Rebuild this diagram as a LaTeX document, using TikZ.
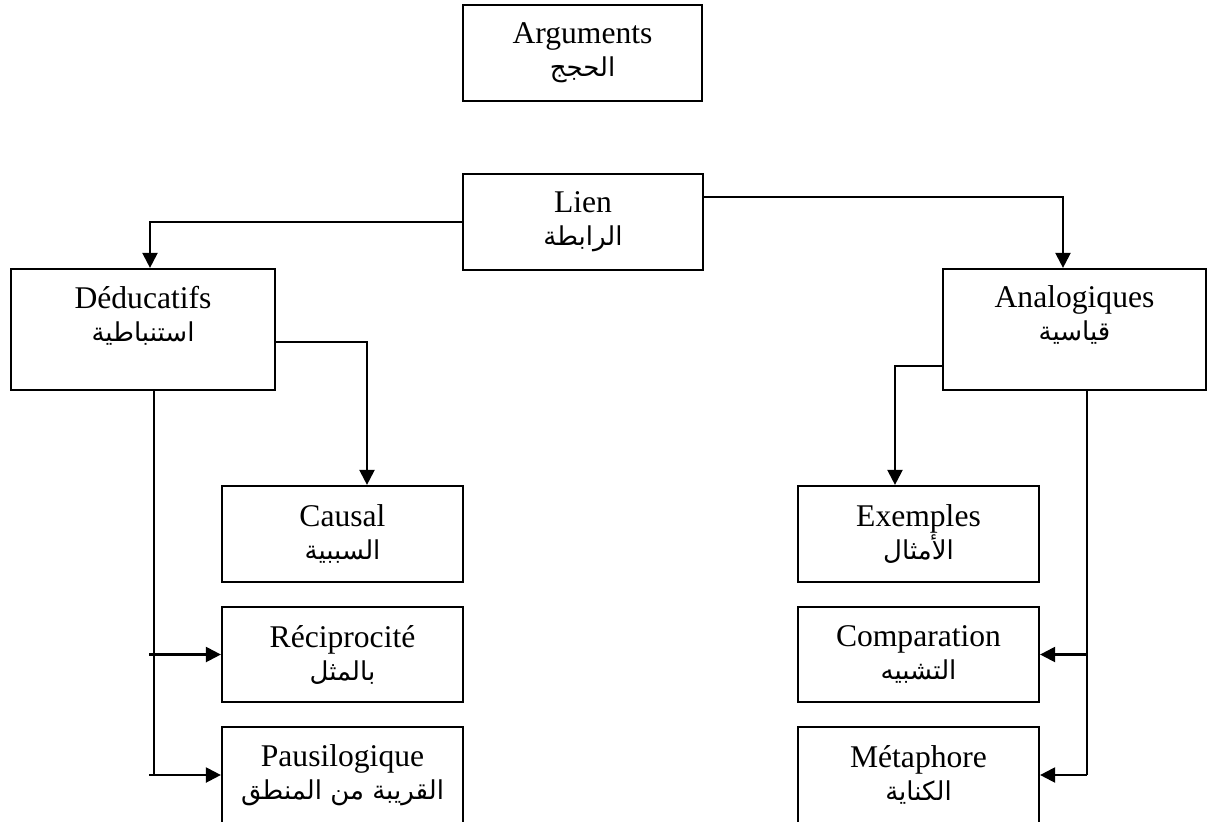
\documentclass[tikz,border=0pt]{standalone}
\usepackage{fontspec}
\setmainfont{Liberation Serif}
\newfontfamily\arabicfont[Script=Arabic]{DejaVu Sans}
\TeXXeTstate=1
\newcommand{\artxt}[1]{{\arabicfont\fontsize{13}{14}\selectfont\beginR #1\endR}}
\usepackage{tikz}
\usetikzlibrary{arrows.meta,calc}

\begin{document}
\begin{tikzpicture}[
x=0.5pt,
y=-0.5pt,
every node/.style={font=\fontsize{15.8}{16.5}\selectfont},
box/.style={rectangle,draw,line width=1.1pt,align=center,inner sep=2pt,minimum width=120.5pt,minimum height=48pt},
bigbox/.style={box,minimum width=132pt,minimum height=60.5pt,text depth=16pt},
line/.style={line width=1.1pt},
arr/.style={line,-{Triangle[length=7.5pt,width=7.5pt]}}
]
\useasboundingbox (0,0) rectangle (1207,821);
\clip (0,0) rectangle (1207,821);

\node[box,minimum width=119.5pt] (args) at (582.5,53) {Arguments\\\artxt{الحجج}};
\node[box,minimum width=120pt] (lien) at (583,222) {Lien\\\artxt{الرابطة}};

\node[bigbox] (deduct) at (143,329.5) {Déducatifs\\\artxt{استنباطية}};
\node[bigbox,minimum width=131.5pt] (analog) at (1074.5,329.5) {Analogiques\\\artxt{قياسية}};

\node[box] (causal) at (342.5,534) {Causal\\\artxt{السببية}};
\node[box,minimum height=47.5pt] (recip) at (342.5,654.5) {Réciprocité\\\artxt{بالمثل}};
\node[box] (pausi) at (342.5,775) {Pausilogique\\\artxt{القريبة من المنطق}};

\node[box] (exemp) at (918.5,534) {Exemples\\\artxt{الأمثال}};
\node[box,minimum height=47.5pt] (compar) at (918.5,654.5) {Comparation\\\artxt{التشبيه}};
\node[box] (metaph) at (918.5,775) {Métaphore\\\artxt{الكناية}};

% lien vers les deux familles
\draw[arr] (lien.west) -| ([xshift=3.5pt]deduct.north);
\draw[arr] ([yshift=12.5pt]lien.east) -| ([xshift=-5.75pt]analog.north);

% branche gauche
\draw[arr] ([yshift=-6.25pt]deduct.east) -| ([xshift=12.25pt]causal.north);
\coordinate (dstem) at ([xshift=5.5pt]deduct.south);
\coordinate (dstub) at ([xshift=-2.5pt]dstem);
\draw[line] (dstem) -- (dstem |- pausi.west);
\draw[arr] (dstub |- recip.west) -- (recip.west);
\draw[arr] (dstub |- pausi.west) -- (pausi.west);

% branche droite
\draw[arr] ([yshift=-18.25pt]analog.west) -| ([xshift=-11.75pt]exemp.north);
\coordinate (astem) at ([xshift=6.25pt]analog.south);
\draw[line] (astem) -- (astem |- metaph.east);
\draw[arr] (astem |- compar.east) -- (compar.east);
\draw[arr] (astem |- metaph.east) -- (metaph.east);
\end{tikzpicture}
\end{document}
